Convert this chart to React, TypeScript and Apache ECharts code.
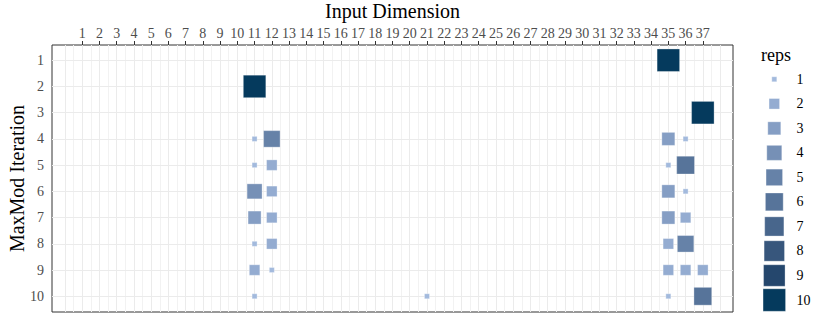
import React, { useEffect, useRef } from "react";
import * as echarts from "echarts";

// MaxMod iteration (row), input dimension (column), number of repetitions
const ITERATION = [1, 2, 3, 4, 4, 4, 4, 5, 5, 5, 5, 6, 6, 6, 6, 7, 7, 7, 7, 8, 8, 8, 8, 9, 9, 9, 9, 9, 10, 10, 10, 10];
const DIMENSION = [35, 11, 37, 11, 12, 35, 36, 11, 12, 35, 36, 11, 12, 35, 36, 11, 12, 35, 36, 11, 12, 35, 36, 11, 12, 35, 36, 37, 11, 21, 35, 37];
const REPS = [10, 10, 10, 1, 5, 3, 1, 1, 2, 1, 6, 4, 2, 3, 1, 3, 2, 3, 2, 1, 2, 2, 5, 2, 1, 2, 2, 2, 1, 1, 1, 6];

const X_TICKS = Array.from({ length: 37 }, (_, i) => i + 1);
const Y_TICKS = [1, 2, 3, 4, 5, 6, 7, 8, 9, 10];
const LEGEND_REPS = [1, 2, 3, 4, 5, 6, 7, 8, 9, 10];
const X_GRID = Array.from({ length: 77 }, (_, i) => i * 0.5);

// styles
const SIZES = [5, 10.5, 13, 15, 16.5, 17.8, 19.2, 20.4, 21.5, 22.5];
const PALETTE = ["#a3badd", "#94acd1", "#859ec4", "#7690b6", "#6682a8", "#57749a", "#48668c", "#37567c", "#25476d", "#053a5d"];
const FONT = "'Liberation Serif', 'DejaVu Serif', serif";

export default function App() {
  const ref = useRef<HTMLDivElement>(null);
  useEffect(() => {
    if (!ref.current) return;
    const chart = echarts.init(ref.current, undefined, { renderer: "svg" });
    const data = ITERATION.map((it, i) => [DIMENSION[i], it, REPS[i]]);
    const legendData = LEGEND_REPS.map((r) => [0.5, r, r]);
    const itemStyle = {
      color: (p: any) => PALETTE[p.value[2] - 1],
      borderColor: "rgba(255,255,255,0.3)",
      borderWidth: 1,
      opacity: 1,
    };
    chart.setOption({
      animation: false,
      textStyle: { fontFamily: FONT },
      grid: [
        { left: 52, right: 97, top: 45, bottom: 10, containLabel: false, outerBoundsMode: "none", show: true, borderColor: "#333", borderWidth: 1, backgroundColor: "transparent" },
        { left: 760, width: 28.6, top: 67, height: 245.3, containLabel: false, outerBoundsMode: "none", show: false },
      ],
      xAxis: [
        {
          type: "value",
          gridIndex: 0,
          position: "top",
          min: -0.75,
          max: 38.75,
          name: "Input Dimension",
          nameLocation: "middle",
          nameGap: 23,
          nameTextStyle: { fontFamily: FONT, fontSize: 20, color: "#000" },
          axisLine: { show: false },
          axisTick: { show: true, customValues: X_TICKS, length: 4, lineStyle: { color: "#333" } },
          axisLabel: { customValues: X_TICKS, interval: 0, margin: 5, fontFamily: FONT, fontSize: 14, color: "#4d4d4d", hideOverlap: false },
          splitLine: { show: false },
        },
        { type: "value", gridIndex: 1, min: 0, max: 1, show: false },
      ],
      yAxis: [
        {
          type: "value",
          gridIndex: 0,
          inverse: true,
          min: 0.42,
          max: 10.6,
          name: "MaxMod Iteration",
          nameLocation: "middle",
          nameRotate: 90,
          nameGap: 25,
          nameMoveOverlap: false,
          nameTextStyle: { fontFamily: FONT, fontSize: 20, color: "#000" },
          axisLine: { show: false },
          axisTick: { show: true, customValues: Y_TICKS, length: 4, lineStyle: { color: "#333" } },
          axisLabel: { customValues: Y_TICKS, margin: 8, fontFamily: FONT, fontSize: 14, color: "#4d4d4d" },
          splitLine: { show: false },
        },
        {
          type: "value",
          gridIndex: 1,
          inverse: true,
          min: 0.5,
          max: 10.5,
          position: "right",
          axisLine: { show: false },
          axisTick: { show: false },
          axisLabel: { customValues: LEGEND_REPS, margin: 8, fontFamily: FONT, fontSize: 14, color: "#000" },
          splitLine: { show: false },
        },
      ],
      title: {
        text: "reps",
        left: 756,
        top: 41,
        textStyle: { fontFamily: FONT, fontSize: 18, fontWeight: "normal", color: "#000" },
      },
      series: [
        {
          type: "line",
          xAxisIndex: 0,
          yAxisIndex: 0,
          data: [],
          silent: true,
          markLine: {
            silent: true,
            symbol: "none",
            label: { show: false },
            animation: false,
            data: [
              ...X_GRID.map((v) => ({ xAxis: v, lineStyle: { color: Number.isInteger(v) ? "#ebebeb" : "#f2f2f2", width: 1, type: "solid" } })),
              ...Y_TICKS.map((v) => ({ yAxis: v, lineStyle: { color: "#ebebeb", width: 1, type: "solid" } })),
            ],
          },
        },
        {
          type: "scatter",
          xAxisIndex: 0,
          yAxisIndex: 0,
          symbol: "rect",
          data,
          symbolSize: (v: number[]) => SIZES[v[2] - 1],
          itemStyle,
          z: 5,
        },
        {
          type: "scatter",
          xAxisIndex: 1,
          yAxisIndex: 1,
          symbol: "rect",
          data: legendData,
          symbolSize: (v: number[]) => SIZES[v[2] - 1],
          itemStyle,
          silent: true,
        },
      ],
    });
    return () => chart.dispose();
  }, []);
  return <div ref={ref} style={{ position: "absolute", left: 0, top: 0, width: 830, height: 322 }} />;
}
